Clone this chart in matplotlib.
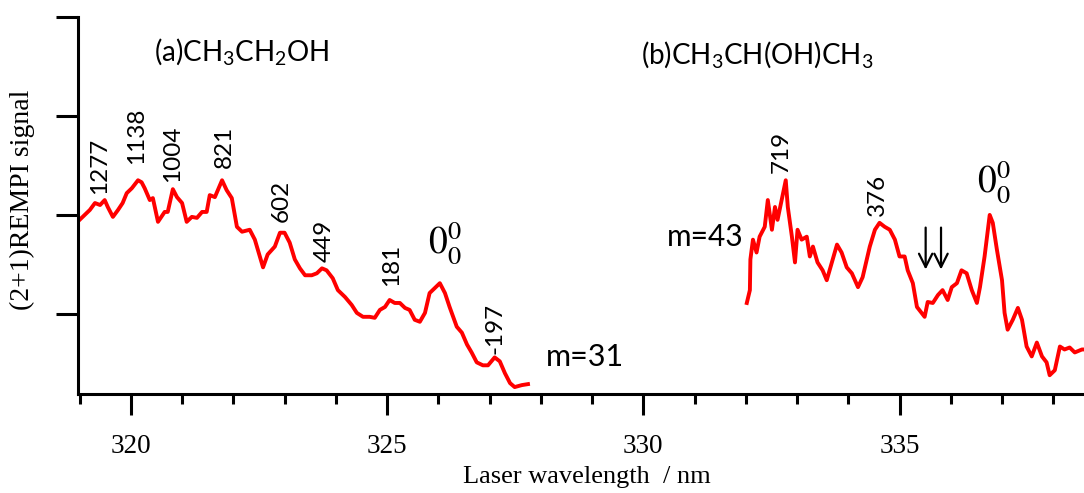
import numpy as np
import matplotlib
matplotlib.use('Agg')
import matplotlib.pyplot as plt

plt.rcParams['mathtext.fontset'] = 'custom'
plt.rcParams['mathtext.rm'] = 'Lato'
plt.rcParams['mathtext.it'] = 'Lato:italic'

### Data
# (a) ethanol, m=31 channel
wl_a = [319.00, 319.10, 319.20, 319.30, 319.40, 319.49, 319.55, 319.65, 319.75, 319.84,
        319.92, 320.02, 320.14, 320.21, 320.27, 320.37, 320.43, 320.53, 320.66, 320.72,
        320.82, 320.90, 321.00, 321.09, 321.19, 321.29, 321.39, 321.48, 321.54, 321.64,
        321.78, 321.87, 321.97, 322.07, 322.17, 322.32, 322.42, 322.58, 322.67, 322.81,
        322.91, 323.00, 323.10, 323.20, 323.30, 323.40, 323.53, 323.63, 323.73, 323.82,
        323.94, 324.04, 324.18, 324.31, 324.41, 324.53, 324.66, 324.76, 324.86, 324.96,
        325.05, 325.15, 325.25, 325.35, 325.44, 325.54, 325.64, 325.74, 325.83, 325.93,
        326.03, 326.13, 326.22, 326.36, 326.46, 326.56, 326.65, 326.75, 326.87, 326.97,
        327.10, 327.20, 327.30, 327.40, 327.49, 327.63, 327.75]
sig_a = [1.95, 2.00, 2.05, 2.12, 2.10, 2.15, 2.08, 1.98, 2.05, 2.12,
         2.22, 2.27, 2.35, 2.33, 2.27, 2.15, 2.17, 1.93, 2.03, 2.03,
         2.26, 2.18, 2.12, 1.93, 1.98, 1.97, 2.03, 2.03, 2.20, 2.18,
         2.35, 2.25, 2.17, 1.88, 1.83, 1.85, 1.75, 1.47, 1.60, 1.68,
         1.82, 1.82, 1.72, 1.55, 1.46, 1.39, 1.39, 1.41, 1.46, 1.44,
         1.36, 1.24, 1.17, 1.09, 1.01, 0.97, 0.97, 0.96, 1.04, 1.07,
         1.14, 1.11, 1.11, 1.06, 1.04, 0.94, 0.92, 1.01, 1.21, 1.26,
         1.31, 1.21, 1.07, 0.87, 0.81, 0.69, 0.61, 0.51, 0.48, 0.48,
         0.56, 0.52, 0.40, 0.30, 0.26, 0.28, 0.29]

# (b) 2-propanol, m=43 channel
wl_b = [332.02, 332.08, 332.09, 332.14, 332.21, 332.27, 332.37, 332.43, 332.51, 332.57,
        332.62, 332.70, 332.78, 332.82, 332.90, 332.96, 333.01, 333.09, 333.19, 333.25,
        333.31, 333.40, 333.50, 333.58, 333.68, 333.78, 333.87, 333.97, 334.07, 334.19,
        334.28, 334.42, 334.52, 334.61, 334.71, 334.81, 334.91, 335.00, 335.10, 335.16,
        335.26, 335.34, 335.43, 335.49, 335.55, 335.65, 335.75, 335.84, 335.94, 336.02,
        336.12, 336.21, 336.31, 336.41, 336.51, 336.57, 336.66, 336.76, 336.82, 336.90,
        337.00, 337.05, 337.11, 337.21, 337.31, 337.39, 337.48, 337.58, 337.68, 337.78,
        337.87, 337.93, 338.03, 338.13, 338.22, 338.32, 338.42, 338.56, 338.72]
sig_b = [1.11, 1.24, 1.55, 1.75, 1.62, 1.78, 1.88, 2.15, 1.85, 2.08,
         1.95, 2.15, 2.35, 2.08, 1.78, 1.52, 1.85, 1.75, 1.78, 1.58,
         1.68, 1.52, 1.44, 1.34, 1.52, 1.70, 1.62, 1.47, 1.41, 1.27,
         1.37, 1.68, 1.85, 1.92, 1.88, 1.85, 1.75, 1.58, 1.58, 1.44,
         1.31, 1.07, 1.01, 0.97, 1.12, 1.11, 1.19, 1.24, 1.14, 1.27,
         1.31, 1.44, 1.41, 1.24, 1.11, 1.27, 1.58, 2.00, 1.92, 1.65,
         1.34, 1.01, 0.84, 0.94, 1.06, 0.94, 0.67, 0.57, 0.71, 0.57,
         0.51, 0.38, 0.43, 0.67, 0.64, 0.66, 0.61, 0.64, 0.64]

# peak labels (wavenumber shifts) and where they sit
peaks_a = ['1277', '1138', '1004', '821', '602', '449', '181', '-197']
peak_a_x = [319.38, 320.12, 320.82, 321.83, 322.93, 323.77, 325.09, 327.10]
peak_a_y = [2.50, 2.80, 2.62, 2.69, 2.14, 1.74, 1.49, 0.85]
peaks_b = ['719', '376']
peak_b_x = [332.70, 334.56]
peak_b_y = [2.64, 2.20]
arrow_x = [335.51, 335.81]

xmajor = [320, 325, 330, 335]
xminor = np.arange(319, 339, 1)
yticks = [1, 2, 3, 4]

### Graph
fig = plt.figure(figsize=(10.84, 4.93), dpi=100)
ax = fig.add_axes([0.072, 0.2008, 0.928, 0.7647])

ax.plot(wl_a, sig_a, color='#ff0000', linewidth=2.8, solid_joinstyle='round')
ax.plot(wl_b, sig_b, color='#ff0000', linewidth=2.8, solid_joinstyle='round')

ax.set_xlim(318.97, 338.6)
ax.set_ylim(0.19, 4.0)
ax.spines['top'].set_visible(False)
ax.spines['right'].set_visible(False)
ax.spines['left'].set_linewidth(2.2)
ax.spines['bottom'].set_linewidth(2.2)

ax.set_xticks(xmajor)
ax.set_xticks(xminor, minor=True)
ax.set_yticks(yticks)
ax.set_yticklabels([])
ax.tick_params(axis='x', which='major', direction='out', length=15, width=2.2, pad=14,
               labelsize=19.5, labelfontfamily='Liberation Serif')
ax.tick_params(axis='x', which='minor', direction='out', length=7.5, width=2.2)
ax.tick_params(axis='y', which='major', direction='out', length=16, width=2.2)

# axis titles
fig.text(587/1084, 1-477/493, 'Laser wavelength  / nm', ha='center', va='center',
         fontsize=19, family='Liberation Serif')
fig.text(22/1084, 1-200/493, '(2+1)REMPI signal', ha='center', va='center',
         rotation=90, fontsize=20, family='Liberation Serif')

# panel labels
ax.text(322.17, 3.65, r'(a)CH$_3$CH$_2$OH', ha='center', va='center', fontsize=20, family='Lato')
ax.text(332.23, 3.62, r'(b)CH$_3$CH(OH)CH$_3$', ha='center', va='center', fontsize=20, family='Lato')
ax.text(328.86, 0.56, 'm=31', ha='center', va='center', fontsize=22, family='Lato')
ax.text(331.20, 1.78, 'm=43', ha='center', va='center', fontsize=21.5, family='Lato')

# peak assignments
for lab, x, y in zip(peaks_a, peak_a_x, peak_a_y):
    ax.text(x, y, lab, rotation=90, ha='center', va='center', fontsize=17.5, family='Lato')
for lab, x, y in zip(peaks_b, peak_b_x, peak_b_y):
    ax.text(x, y, lab, rotation=90, ha='center', va='center', fontsize=17.5, family='Lato')

# origin bands
ax.text(326.13, 1.72, r'$0_0^0$', ha='center', va='center', fontsize=27, math_fontfamily='stix')
ax.text(336.84, 2.34, r'$0_0^0$', ha='center', va='center', fontsize=27, math_fontfamily='stix')

# arrows
for x in arrow_x:
    ax.annotate('', xy=(x, 1.42), xytext=(x, 1.90),
                arrowprops=dict(arrowstyle='->', lw=1.6, color='black', mutation_scale=24))

fig.savefig('out.png', dpi=100)
